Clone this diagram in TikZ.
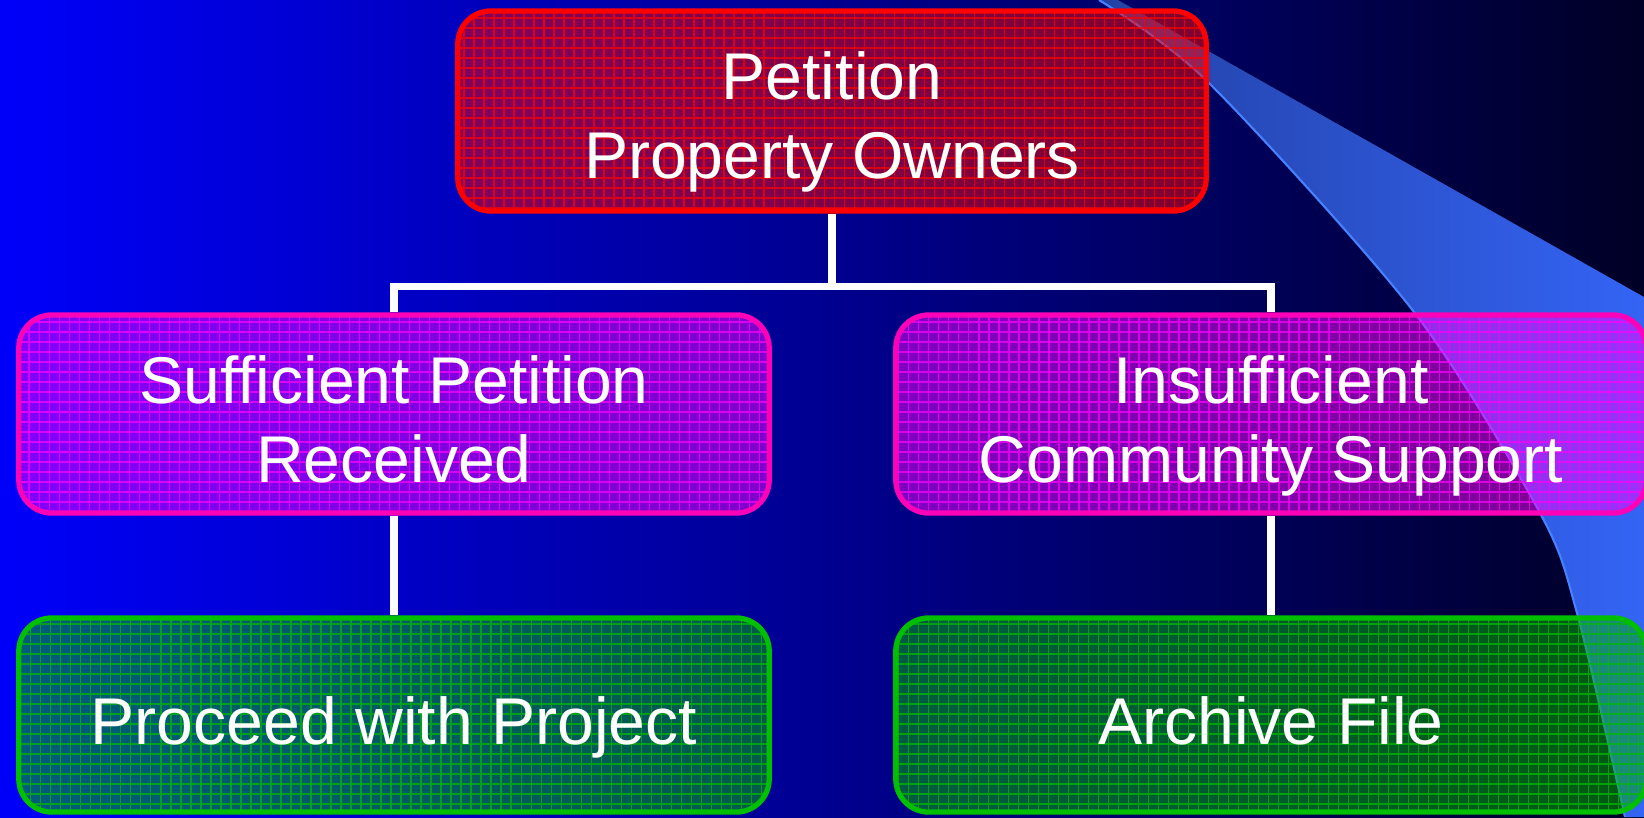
\documentclass[tikz,border=0pt]{standalone}
\usepackage{fontspec}
\setmainfont{Liberation Sans}
\usetikzlibrary{positioning}

\definecolor{bgleft}{RGB}{0,0,250}
\definecolor{bgmid}{RGB}{0,0,190}
\definecolor{bgright}{RGB}{0,0,38}
\definecolor{swooshdark}{RGB}{35,65,165}
\definecolor{swooshlight}{RGB}{52,100,245}
\definecolor{swooshedge}{RGB}{70,130,255}
\definecolor{petred}{RGB}{255,0,0}
\definecolor{midpink}{RGB}{255,0,185}
\definecolor{midfill}{RGB}{255,0,255}
\definecolor{endgreen}{RGB}{0,190,0}
\definecolor{endfill}{RGB}{0,180,0}

\tikzset{
    box/.style={rectangle, rounded corners=0.33cm, line width=1.5pt,
        minimum width=7.5cm, text=white, align=center,
        font=\fontsize{18.8}{22.2}\selectfont, text depth=0pt,
        fill opacity=0.5, draw opacity=1, text opacity=1},
    gridded/.style={path picture={
        \draw[#1, line width=0.35pt, opacity=0.7]
            (path picture bounding box.south west) grid[step=0.1cm]
            (path picture bounding box.north east);}},
    topbox/.style={box, draw=petred, fill=petred, gridded=petred,
        minimum width=7.48cm, minimum height=2cm, text height=1.34cm},
    midbox/.style={box, draw=midpink, fill=midfill, gridded=midfill,
        minimum height=1.98cm, text height=1.36cm},
    endbox/.style={box, draw=endgreen, fill=endfill, gridded=endgreen,
        minimum height=1.94cm, text height=0.58cm},
    conn/.style={draw=white, line width=2pt}
}

\begin{document}
\begin{tikzpicture}[x=0.01cm, y=-0.01cm]
\useasboundingbox (0,0) rectangle (1644,817);
\clip (0,0) rectangle (1644,817);

% backdrop
\fill[left color=bgleft, middle color=bgmid, right color=bgright] (0,0) rectangle (1644,817);

% swoosh on the right
\fill[left color=swooshdark, right color=swooshlight]
    (1118,0) -- (1644,297) -- (1644,817) -- (1625,817)
    -- plot[smooth] coordinates {(1625,817) (1577,613) (1540,513) (1414,312) (1209,83) (1099,0)}
    -- cycle;
\draw[swooshedge, line width=0.6pt]
    plot[smooth] coordinates {(1625,817) (1577,613) (1540,513) (1414,312) (1209,83) (1099,0)};
%\draw[swooshedge] (1118,0) -- (1644,297);

% boxes
\node[topbox] (petition) at (832,111) {Petition\\Property Owners};
\node[midbox] (sufficient) at (394,414) {Sufficient Petition\\Received};
\node[midbox] (insufficient) at (1271,414) {Insufficient\\Community Support};
\node[endbox] (proceed) at (394,715) {Proceed with Project};
\node[endbox] (archive) at (1271,715) {Archive File};

% connectors
\draw[conn] (petition.south) -- ++(0,73) coordinate (split);
\draw[conn] (sufficient.north) |- (split) -| (insufficient.north);
\draw[conn] (sufficient) -- (proceed);
\draw[conn] (insufficient) -- (archive);
\end{tikzpicture}
\end{document}
